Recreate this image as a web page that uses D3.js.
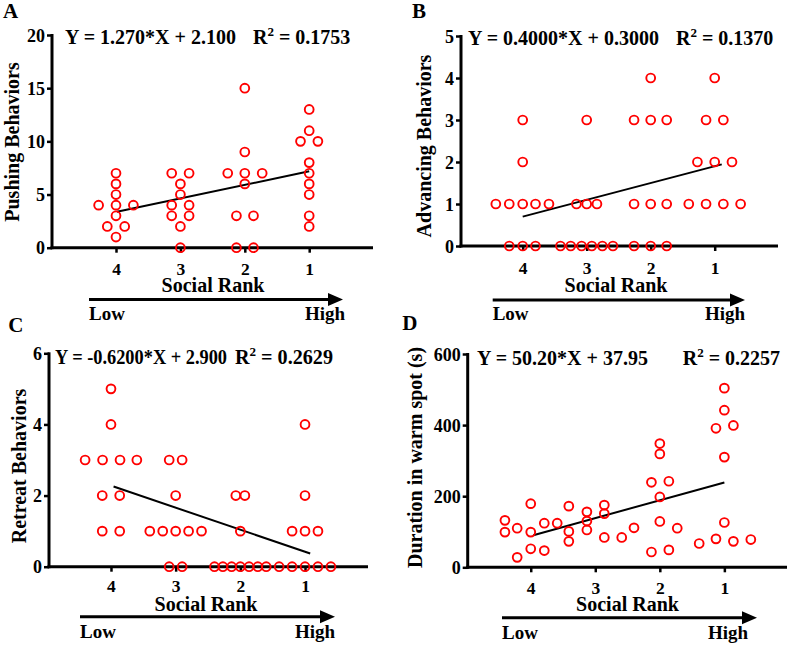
<!DOCTYPE html>
<html>
<head>
<meta charset="utf-8">
<script src="https://cdn.jsdelivr.net/npm/d3@7"></script>
<style>
  html, body { margin: 0; padding: 0; background: #fff; }
  svg { display: block; }
</style>
</head>
<body>
<svg id="chart" width="790" height="646"></svg>
<script>
// ---------------- DATA ----------------
const rankTicks = [4, 3, 2, 1];

// Panel A: Pushing behaviors (x = social rank, jittered as plotted)
const pushingRank  = [4.27,4,4,4,4,3.73,4,4.135,3.865,4,
                      3.135,2.865,3,3,3.135,2.865,3.135,2.865,3,3,
                      2,2,2.265,2,1.73,2,2.13,1.865,2.13,1.865,
                      1,1,1.135,0.865,1,1,1,1,1,1];
const pushingValue = [4,7,6,5,4,4,3,2,2,1,
                      7,7,6,5,4,4,3,3,2,0,
                      15,9,7,7,7,6,3,3,0,0,
                      13,11,10,10,8,7,6,5,3,2];

// Panel B: Advancing behaviors
const advancingRank  = [4,4,4.42,4.21,4,3.8,3.59,4.21,4,3.8,
                        3,3.16,3,2.84,3.41,3.25,3.08,2.92,2.755,2.59,
                        2,2.26,2,1.75,2.26,2,1.75,2.26,2,1.75,
                        1,1.135,0.865,1.27,1,0.73,1.405,1.135,0.865,0.595];
const advancingValue = [3,2,1,1,1,1,1,0,0,0,
                        3,1,1,1,0,0,0,0,0,0,
                        4,3,3,3,1,1,1,0,0,0,
                        4,3,3,2,2,2,1,1,1,1];

// Panel C: Retreat behaviors
const retreatRank  = [4,4,4.40,4.13,3.86,3.60,4.135,3.865,4.135,3.865,
                      3.10,2.90,3,3.4,3.2,3,2.8,2.6,3.10,2.90,
                      2.07,1.93,2,2.40,2.27,2.135,2,1.865,1.73,1.60,
                      1,1,1.2,1,0.8,1.4,1.2,1,0.8,0.6];
const retreatValue = [5,4,3,3,3,3,2,2,1,1,
                      3,3,2,1,1,1,1,1,0,0,
                      2,2,1,0,0,0,0,0,0,0,
                      4,2,1,1,1,0,0,0,0,0];

// Panel D: Duration in warm spot (s)
const durationRank  = [4.40,4.40,4.21,4.21,4,4,4,3.79,3.79,3.59,
                       3.41,3.41,3.41,3.13,3.13,3.13,2.86,2.86,2.86,2.59,
                       2,2,2,2,2.13,2.13,1.86,1.86,2.40,1.73,
                       1,1,1,1,1.13,1.13,0.86,0.86,1.39,0.59];
const durationValue = [132,99,110,28,179,99,52,124,47,124,
                       172,101,73,156,130,105,175,151,84,84,
                       348,319,198,129,239,43,242,49,111,110,
                       504,442,310,126,391,80,399,73,67,78];

// Regression fits (X = 5 - rank) and the X span over which each fit is drawn
const fitSlope     = [1.270, 0.4000, -0.6200, 50.20];
const fitIntercept = [2.100, 0.3000, 2.900, 37.95];
const fitXStart    = [1.015, 1.0, 1.04, 1.04];
const fitXEnd      = [4.0, 4.11, 4.08, 4.0];
const equationText = ["Y = 1.270*X + 2.100", "Y = 0.4000*X + 0.3000", "Y = -0.6200*X + 2.900", "Y = 50.20*X + 37.95"];
const r2Text       = ["0.1753", "0.1370", "0.2629", "0.2257"];

const yLabels   = ["Pushing Behaviors", "Advancing Behaviors", "Retreat Behaviors", "Duration in warm spot (s)"];
const yMaxes    = [20, 5, 6, 600];
const yTickSets = [[0,5,10,15,20], [0,1,2,3,4,5], [0,2,4,6], [0,200,400,600]];
const panelLetters = ["A", "B", "C", "D"];

// ---------------- LAYOUT ----------------
const FONT = "'Liberation Serif', 'Times New Roman', Tinos, serif";
const layouts = [
  { x0: 52,  x1: 373, xr0: 51.6, xr1: 373.6, yB: 247.7, yT: 35,
    letter: [3, 17.5], eq: [65, 43.5], eqLen: null, r2x: 253, r2Len: null, ylab: [19, 142],
    tickY: 275.5, srank: [213, 292], arrow: [89, 343, 299.5], lowY: 320, highX: 345 },
  { x0: 461, x1: 778, xr0: 458.7, xr1: 778.7, yB: 246, yT: 36,
    letter: [412, 17.5], eq: [468, 45], eqLen: null, r2x: 676, r2Len: null, ylab: [431, 146],
    tickY: 273.5, srank: [616, 291.6], arrow: [492.7, 745, 300], lowY: 320, highX: 745 },
  { x0: 49, x1: 368, xr0: 46.3, xr1: 369.7, yB: 566.7, yT: 353.3,
    letter: [8.3, 331.7], eq: [55, 363.5], eqLen: 172, r2x: 235, r2Len: 98, ylab: [26, 466],
    tickY: 592.5, srank: [206, 610.5], arrow: [80, 335, 616.7], lowY: 638.3, highX: 335 },
  { x0: 467.7, x1: 787, xr0: 466.2, xr1: 788.9, yB: 567.3, yT: 354,
    letter: [402.3, 330], eq: [477, 365], eqLen: null, r2x: 682.7, r2Len: null, ylab: [422, 457.5],
    tickY: 594.5, srank: [627.5, 610.5], arrow: [502, 757, 617.7], lowY: 639, highX: 748 }
];

const panelData = [
  { rank: pushingRank, value: pushingValue },
  { rank: advancingRank, value: advancingValue },
  { rank: retreatRank, value: retreatValue },
  { rank: durationRank, value: durationValue }
];

// ---------------- DRAW ----------------
const svg = d3.select("#chart");
const RED = "#ff0000";

function txt(sel) {
  return sel.style("font-family", FONT).attr("font-weight", "bold").attr("fill", "#000");
}

panelData.forEach((pd, i) => {
  const L = layouts[i];
  const g = svg.append("g");

  const x = d3.scaleLinear().domain([5, 0]).range([L.xr0, L.xr1]);
  const y = d3.scaleLinear().domain([0, yMaxes[i]]).range([L.yB, L.yT]);

  // panel letter
  txt(g.append("text")).attr("x", L.letter[0]).attr("y", L.letter[1])
    .attr("font-size", 21).text(panelLetters[i]);

  // Y axis
  const yAxis = d3.axisLeft(y).tickValues(yTickSets[i]).tickSize(5).tickPadding(2).tickFormat(d3.format("d"));
  const ya = g.append("g").attr("transform", `translate(${L.x0},0)`).call(yAxis);
  ya.attr("font-family", null).attr("font-size", null);
  ya.select(".domain").remove();
  ya.selectAll(".tick line").attr("stroke", "#000").attr("stroke-width", 2.5);
  txt(ya.selectAll(".tick text")).attr("font-size", 18).attr("dy", "0.34em");
  g.append("line").attr("x1", L.x0).attr("x2", L.x0)
    .attr("y1", y(yMaxes[i]) - 1).attr("y2", L.yB + 1.5)
    .attr("stroke", "#000").attr("stroke-width", 3);

  // X axis
  const xAxis = d3.axisBottom(x).tickValues(rankTicks).tickSize(5).tickPadding(4).tickFormat(d3.format("d"));
  const xa = g.append("g").attr("transform", `translate(0,${L.yB})`).call(xAxis);
  xa.attr("font-family", null).attr("font-size", null);
  xa.select(".domain").remove();
  xa.selectAll(".tick line").attr("stroke", "#000").attr("stroke-width", 2.5);
  txt(xa.selectAll(".tick text")).attr("font-size", 17.5).attr("dy", null)
    .attr("y", L.tickY - L.yB);
  g.append("line").attr("x1", L.x0 - 1.5).attr("x2", L.x1)
    .attr("y1", L.yB).attr("y2", L.yB)
    .attr("stroke", "#000").attr("stroke-width", 3);

  // Y label
  txt(g.append("text"))
    .attr("transform", `translate(${L.ylab[0]},${L.ylab[1]}) rotate(-90)`)
    .attr("text-anchor", "middle").attr("font-size", 20).text(yLabels[i]);

  // Social Rank label
  txt(g.append("text")).attr("x", L.srank[0]).attr("y", L.srank[1])
    .attr("text-anchor", "middle").attr("font-size", 20).text("Social Rank");

  // arrow
  const [ax0, ax1, ay] = L.arrow;
  g.append("line").attr("x1", ax0).attr("x2", ax1 - 12).attr("y1", ay).attr("y2", ay)
    .attr("stroke", "#000").attr("stroke-width", 3);
  g.append("path")
    .attr("d", `M${ax1 - 15},${ay - 6.5} L${ax1},${ay} L${ax1 - 15},${ay + 6.5} Z`)
    .attr("fill", "#000");
  txt(g.append("text")).attr("x", ax0).attr("y", L.lowY).attr("font-size", 19).text("Low");
  txt(g.append("text")).attr("x", L.highX).attr("y", L.lowY).attr("text-anchor", "end")
    .attr("font-size", 19).text("High");

  // equation
  const eq = txt(g.append("text")).attr("x", L.eq[0]).attr("y", L.eq[1]).attr("font-size", 20).text(equationText[i]);
  if (L.eqLen) eq.attr("textLength", L.eqLen).attr("lengthAdjust", "spacingAndGlyphs");
  const r2 = txt(g.append("text")).attr("x", L.r2x).attr("y", L.eq[1]).attr("font-size", 20);
  r2.append("tspan").text("R");
  r2.append("tspan").attr("font-size", 13).attr("dy", -8).text("2");
  r2.append("tspan").attr("dy", 8).text(" = " + r2Text[i]);
  if (L.r2Len) r2.attr("textLength", L.r2Len).attr("lengthAdjust", "spacingAndGlyphs");

  // regression line
  g.append("line")
    .attr("x1", x(5 - fitXStart[i])).attr("y1", y(fitSlope[i] * fitXStart[i] + fitIntercept[i]))
    .attr("x2", x(5 - fitXEnd[i])).attr("y2", y(fitSlope[i] * fitXEnd[i] + fitIntercept[i]))
    .attr("stroke", "#000").attr("stroke-width", 2);

  // points
  g.append("g").selectAll("circle")
    .data(pd.rank.map((r, k) => ({ r, v: pd.value[k] })))
    .join("circle")
    .attr("cx", d => x(d.r))
    .attr("cy", d => y(d.v))
    .attr("r", 4.4)
    .attr("fill", "none")
    .attr("stroke", RED)
    .attr("stroke-width", 1.9);
});
</script>
</body>
</html>
